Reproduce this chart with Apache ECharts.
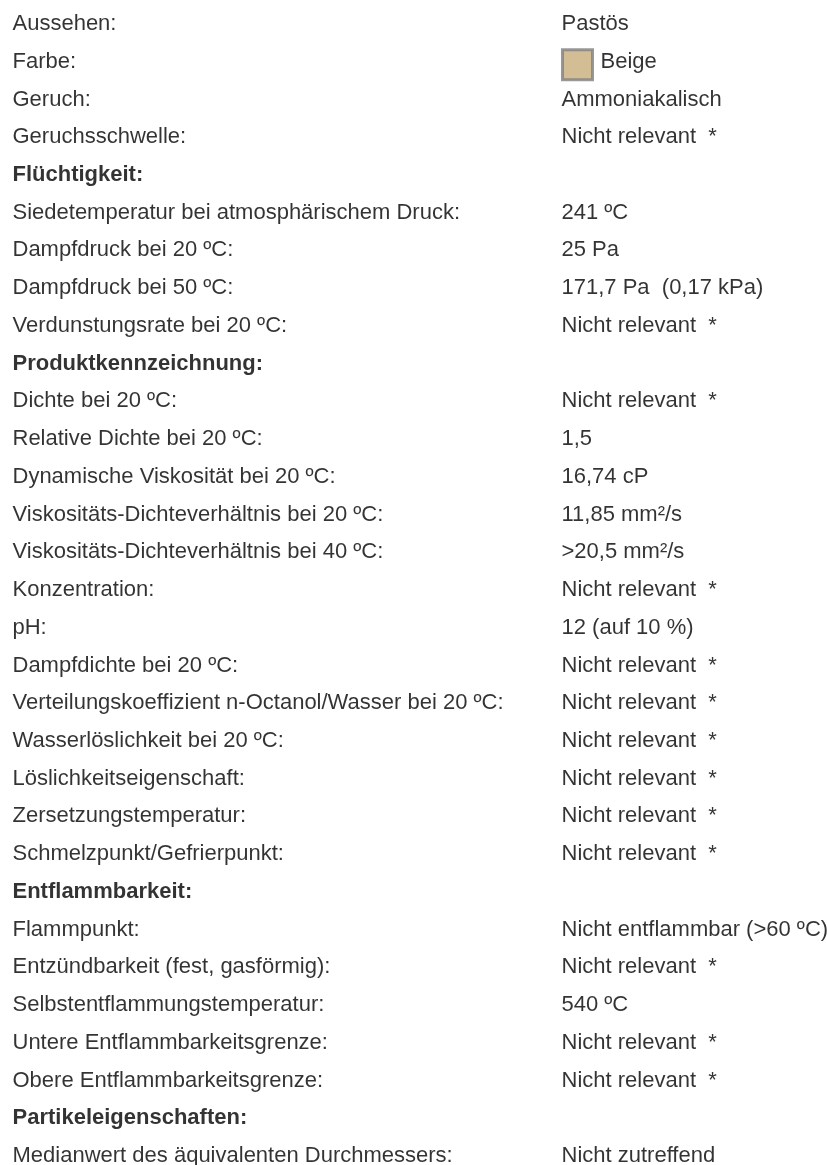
<!DOCTYPE html>
<html>
<head>
<meta charset="utf-8">
<script src="https://cdn.jsdelivr.net/npm/echarts@6/dist/echarts.min.js"></script>
<style>
  html, body { margin: 0; padding: 0; background: #fff; }
  #main { width: 827px; height: 1165px; }
</style>
</head>
<body>
<div id="main"></div>
<script>
// Zeilen (linke Spalte)
const props = [
  'Aussehen:', 'Farbe:', 'Geruch:', 'Geruchsschwelle:',
  'Flüchtigkeit:',
  'Siedetemperatur bei atmosphärischem Druck:', 'Dampfdruck bei 20 ºC:', 'Dampfdruck bei 50 ºC:', 'Verdunstungsrate bei 20 ºC:',
  'Produktkennzeichnung:',
  'Dichte bei 20 ºC:', 'Relative Dichte bei 20 ºC:', 'Dynamische Viskosität bei 20 ºC:',
  'Viskositäts-Dichteverhältnis bei 20 ºC:', 'Viskositäts-Dichteverhältnis bei 40 ºC:',
  'Konzentration:', 'pH:', 'Dampfdichte bei 20 ºC:', 'Verteilungskoeffizient n-Octanol/Wasser bei 20 ºC:',
  'Wasserlöslichkeit bei 20 ºC:', 'Löslichkeitseigenschaft:', 'Zersetzungstemperatur:', 'Schmelzpunkt/Gefrierpunkt:',
  'Entflammbarkeit:',
  'Flammpunkt:', 'Entzündbarkeit (fest, gasförmig):', 'Selbstentflammungstemperatur:',
  'Untere Entflammbarkeitsgrenze:', 'Obere Entflammbarkeitsgrenze:',
  'Partikeleigenschaften:',
  'Medianwert des äquivalenten Durchmessers:'
]
// Werte (rechte Spalte), leer bei Abschnittsüberschriften
const values = [
  'Pastös', 'Beige', 'Ammoniakalisch', 'Nicht relevant  *',
  '',
  '241 ºC', '25 Pa', '171,7 Pa  (0,17 kPa)', 'Nicht relevant  *',
  '',
  'Nicht relevant  *', '1,5', '16,74 cP', '11,85 mm²/s', '>20,5 mm²/s',
  'Nicht relevant  *', '12 (auf 10 %)', 'Nicht relevant  *', 'Nicht relevant  *',
  'Nicht relevant  *', 'Nicht relevant  *', 'Nicht relevant  *', 'Nicht relevant  *',
  '',
  'Nicht entflammbar (>60 ºC)', 'Nicht relevant  *', '540 ºC', 'Nicht relevant  *', 'Nicht relevant  *',
  '',
  'Nicht zutreffend'
]
const sections = ['Flüchtigkeit:', 'Produktkennzeichnung:', 'Entflammbarkeit:', 'Partikeleigenschaften:']
const colorRow = 'Farbe:'
const swatchColor = '#C8AC7B'

const FONT = 'Liberation Sans, Arial, sans-serif'
const chart = echarts.init(document.getElementById('main'))

const swatchIdx = props.indexOf(colorRow)

const leftData = props.map((p, i) => ({
  value: [0, i],
  name: p,
  label: { fontWeight: sections.includes(p) ? 'bold' : 'normal' }
}))
const rightData = []
values.forEach((v, i) => {
  if (!v) return
  const item = { value: [1, i], name: v }
  // Farbfeld davor: Text nach rechts schieben
  if (i === swatchIdx) item.label = { distance: 39 }
  rightData.push(item)
})

const baseLabel = {
  show: true,
  position: 'right',
  distance: 0,
  color: '#000',
  fontFamily: FONT,
  fontSize: 22,
  formatter: p => p.name
}

chart.setOption({
  backgroundColor: '#fff',
  animation: false,
  grid: { left: 12, right: 266, top: 24, bottom: 9 },
  xAxis: { type: 'value', min: 0, max: 1, show: false },
  yAxis: { type: 'category', data: props, inverse: true, boundaryGap: false, show: false },
  series: [
    {
      type: 'scatter',
      symbolSize: 1,
      itemStyle: { color: 'transparent' },
      label: baseLabel,
      data: leftData
    },
    {
      type: 'scatter',
      symbolSize: 1,
      itemStyle: { color: 'transparent' },
      label: baseLabel,
      data: rightData
    },
    {
      // Farbfeld "Beige"
      type: 'scatter',
      symbol: 'rect',
      symbolSize: 30,
      symbolOffset: [16.5, 3],
      itemStyle: { color: swatchColor, borderColor: '#7f7f7f', borderWidth: 3 },
      data: [[1, swatchIdx]]
    }
  ]
})
</script>
</body>
</html>
